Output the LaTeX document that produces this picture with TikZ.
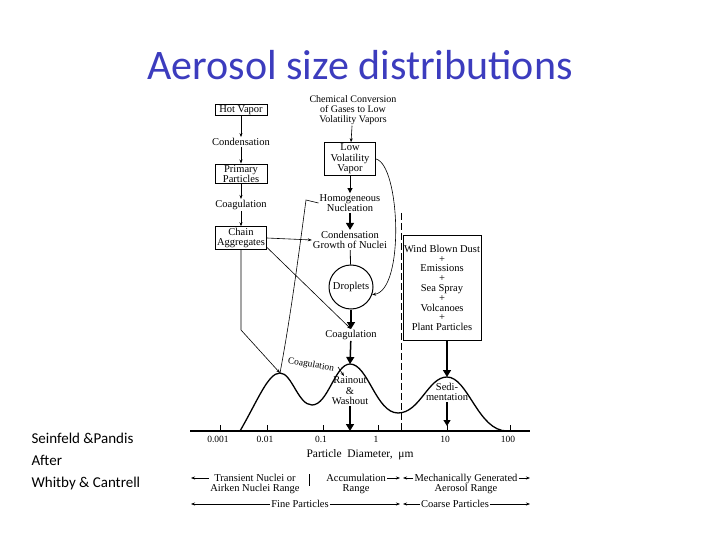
\documentclass[tikz,border=0pt]{standalone}
\usepackage{fontspec}
\setmainfont{Liberation Serif}
\newfontfamily\titlefont{Carlito}
\usetikzlibrary{arrows.meta}
\begin{document}
\begin{tikzpicture}[x=1pt,y=-1pt,
  lbl/.style={font=\fontsize{10.5}{10.5}\selectfont,align=center,inner sep=1pt},
  bx/.style={lbl,draw,line width=1pt,inner sep=1.2pt},
  thin/.style={line width=0.6pt,-{Stealth[length=4pt,width=3pt]}},
  thick/.style={line width=1.5pt,-{Triangle[length=7pt,width=8pt]}},
  side/.style={font=\titlefont\fontsize{15}{22}\selectfont,align=left,anchor=north west}]
\useasboundingbox (0,0) rectangle (720,540);
\node[font=\titlefont\fontsize{42}{44}\selectfont,text={rgb,255:red,60;green,60;blue,190}] (title) at (360,65) {Aerosol size distributions};
\node[side] (src) at (28,430) {Seinfeld \&Pandis\\After\\Whitby \& Cantrell};
% left column
\node[bx,minimum width=52pt] (hot) at (241,110) {Hot Vapor};
\node[lbl] (cond1) at (241,142) {Condensation};
\node[bx,minimum width=52pt] (prim) at (241,174) {Primary\\Particles};
\node[lbl] (coag1) at (241,205) {Coagulation};
\node[bx,minimum width=51pt] (chain) at (241,238) {Chain\\Aggregates};
\draw[thin] (hot) -- (cond1);
\draw[thin] (cond1) -- (prim);
\draw[thin] (prim) -- (coag1);
\draw[thin] (coag1) -- (chain);
% middle column
\node[lbl,font=\fontsize{10}{10}\selectfont] (chem) at (353,110) {Chemical Conversion\\of Gases to Low\\Volatility Vapors};
\node[bx,minimum width=51pt] (lvv) at (350,159) {Low\\Volatility\\Vapor};
\node[lbl] (hom) at (350,203) {Homogeneous\\Nucleation};
\node[lbl] (cgn) at (350,240) {Condensation\\Growth of Nuclei};
\node[lbl,draw,circle,line width=1pt,minimum size=44pt] (drop) at (351,287) {Droplets};
\node[lbl] (coag2) at (351,335) {Coagulation};
\draw[thin] (chem) -- (lvv);
\draw[line width=1pt,-{Triangle[length=5pt,width=5pt]}] (lvv) -- (hom);
\draw[thick] (hom) -- (cgn);
\draw[line width=0.8pt] (cgn) -- (drop);
\draw[thick] (drop) -- (coag2);
\draw[thin] (lvv.east) .. controls (400,165) and (405,290) .. (drop.-20);
% right
\node[bx,minimum width=78pt,minimum height=105pt,inner sep=0.5pt,font=\fontsize{10.5}{9.8}\selectfont] (wind) at (442,288) {Wind Blown Dust\\+\\Emissions\\+\\Sea Spray\\+\\Volcanoes\\+\\Plant Particles};
\coordinate (dtop) at (401,213);
\coordinate (dbot) at (401,432);
\draw[dashed,dash pattern=on 7pt off 3pt,line width=0.6pt] (dtop) -- (dbot);
% axis
\coordinate (axl) at (190,431);
\coordinate (axr) at (530,431);
\draw[line width=1.2pt] (axl) -- (axr);
\foreach \x/\t in {220/0.001,267/0.01,323/0.1,378/1,447/10,510/100}{
  \draw[line width=0.8pt] (\x,425) -- (\x,431);
  \node[lbl,font=\fontsize{9.5}{9.5}\selectfont] at (\x-2,439) {\t};}
% curve
\coordinate (p1) at (280,373);
\coordinate (p2) at (350,364);
\coordinate (p3) at (447,377);
\draw[line width=1.3pt] (240,431) .. controls (258,400) and (268,373) .. (p1)
  .. controls (292,373) and (298,405) .. (312,405)
  .. controls (328,405) and (335,364) .. (p2)
  .. controls (368,364) and (376,413) .. (398,413)
  .. controls (420,413) and (428,377) .. (p3)
  .. controls (468,377) and (478,431) .. (507,431);
% arrows to curve
\draw[thick] (coag2) -- (p2);
\node[lbl] (rain) at (350,391) {Rainout\\\&\\Washout};
\draw[thick] (rain) -- (350,431);
\draw[thick] (wind.south -| p3) -- (p3);
\node[lbl] (sed) at (447,392) {Sedi-\\mentation};
\draw[line width=1.2pt,-{Triangle[length=6pt,width=7pt]}] (sed) -- (447,426);
\node[lbl,rotate=-10,font=\fontsize{9.5}{9}\selectfont] (coagc) at (311,365) {Coagulation};
\draw[thin] (338,367) -- (344,376);
% thin connectors
\draw[thin] (chain.east) -- (cgn.west);
\draw[thin] (chain.-20) -- (coag2.north);
\draw[thin] (chain.south) -- (241,330) -- (p1);
\draw[line width=0.6pt] (hom.west) -- (306,200) .. controls (298,260) and (290,320) .. (p1);
% bottom
\node[lbl,font=\fontsize{11.5}{12}\selectfont] (pd) at (360,455) {Particle\ \ Diameter,\ \ μm};
\node[lbl] (tn) at (255,484) {Transient Nuclei or\\Airken Nuclei Range};
\node[lbl] (acc) at (356,484) {Accumulation\\Range};
\node[lbl] (mech) at (466,484) {Mechanically Generated\\Aerosol Range};
\coordinate (b1) at (191,478);
\coordinate (b2) at (530,478);
\draw[thin] (tn.west |- b1) -- (b1);
\draw[thin] (mech.east |- b1) -- (b2);
\draw[line width=0.5pt] (309,474) -- (309,486);
\draw[thin] (acc.east |- b1) -- (400,478);
\draw[thin] (mech.west |- b1) -- (403,478);
\node[lbl] (fine) at (300,504) {Fine Particles};
\node[lbl] (coarse) at (455,504) {Coarse Particles};
\draw[thin] (fine.west) -- (191,504);
\draw[thin] (fine.east) -- (400,504);
\draw[thin] (coarse.west) -- (403,504);
\draw[thin] (coarse.east) -- (530,504);
\end{tikzpicture}
\end{document}
